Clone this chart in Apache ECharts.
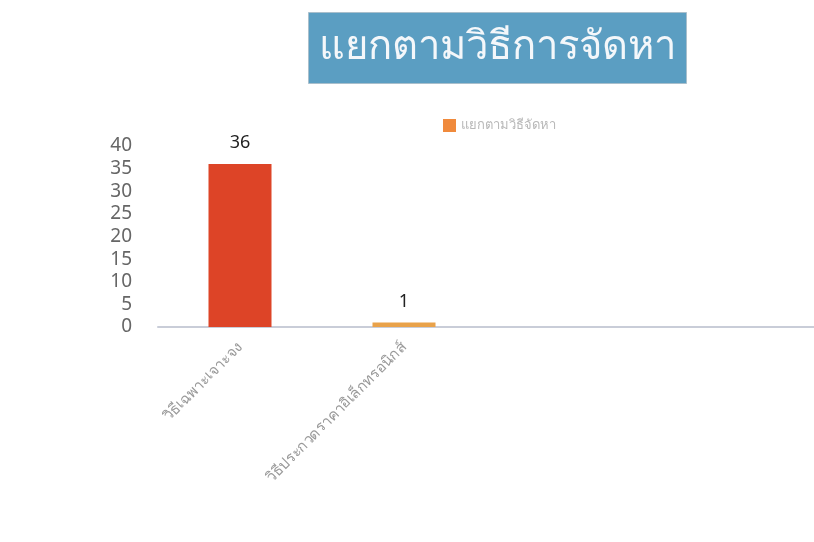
<!DOCTYPE html>
<html><head><meta charset="utf-8">
<script src="https://cdn.jsdelivr.net/npm/echarts@6/dist/echarts.min.js"></script>
<style>html,body{margin:0;padding:0;background:#fff}#c{width:814px;height:542px}</style>
</head><body><div id="c"></div>
<script>
const titleText = 'แยกตามวิธีการจัดหา';
const seriesName = 'แยกตามวิธีจัดหา';
const categories = ['วิธีเฉพาะเจาะจง', 'วิธีประกวดราคาอิเล็กทรอนิกส์', '', ''];
const values = [36, 1, null, null];
const barColors = ['#dd4427', '#e9a24a'];

const chart = echarts.init(document.getElementById('c'));
chart.setOption({
  backgroundColor: '#fff',
  animation: false,
  title: {
    text: titleText,
    left: 308, top: 12,
    backgroundColor: '#5b9ec2',
    borderColor: '#a9bfcc', borderWidth: 1,
    padding: [14, 11, 14, 11],
    textStyle: { color: '#f4f7fa', fontSize: 40, lineHeight: 44, fontWeight: 'normal', fontFamily: 'Noto Sans, sans-serif' }
  },
  legend: {
    data: [seriesName],
    left: 438, top: 114,
    itemWidth: 13, itemHeight: 13, itemGap: 8,
    icon: 'rect',
    itemStyle: { color: '#f08a3c' },
    textStyle: { color: '#b8b8b8', fontSize: 13 }
  },
  grid: { left: 158, right: 0, top: 146, bottom: 215, containLabel: false },
  xAxis: {
    type: 'category',
    data: categories,
    axisLine: { lineStyle: { color: '#c9cdd8', width: 2 } },
    axisTick: { show: false },
    axisLabel: { rotate: 45, color: '#9a9a9a', fontSize: 15, margin: 18, interval: 0 }
  },
  yAxis: {
    type: 'value', min: 0, max: 40, interval: 5,
    axisLine: { show: false }, axisTick: { show: false },
    splitLine: { show: false },
    axisLabel: { color: '#666', fontSize: 19, margin: 26, fontFamily: 'Noto Sans, sans-serif' }
  },
  series: [{
    name: seriesName,
    type: 'bar',
    data: values.map((v, i) => ({ value: v, itemStyle: { color: barColors[i] || '#f08a3c' } })),
    barWidth: 63,
    label: { show: true, position: 'top', distance: 12, color: '#222', fontSize: 18, fontFamily: 'Noto Sans, sans-serif' }
  }]
});
</script></body></html>
